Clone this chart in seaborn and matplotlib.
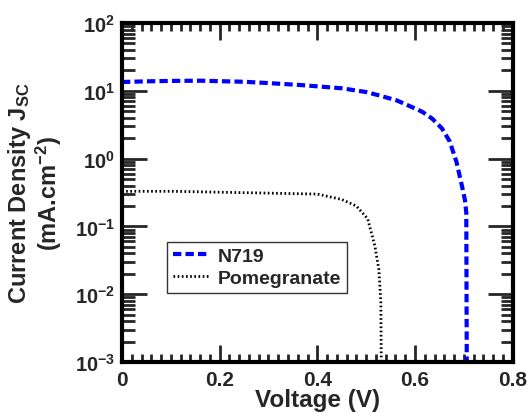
import numpy as np
import pandas as pd
import matplotlib
matplotlib.use("Agg")
import matplotlib.pyplot as plt
import seaborn as sns
from matplotlib.ticker import LogLocator, MultipleLocator, FixedLocator, FixedFormatter, NullFormatter

# J-V data (log scale)
v_n719 = [0.0, 0.05, 0.10, 0.16, 0.25, 0.30, 0.364, 0.45, 0.50, 0.528, 0.563, 0.595,
          0.615, 0.635, 0.655, 0.671, 0.685, 0.696, 0.702, 0.705, 0.706]
j_n719 = [13.5, 13.8, 14.0, 14.1, 13.6, 13.0, 12.2, 10.9, 9.6, 8.5, 7.2, 5.7,
          4.9, 3.9, 2.8, 1.8, 0.89, 0.40, 0.25, 0.16, 0.0009]

v_pom = [0.0, 0.10, 0.20, 0.30, 0.40, 0.45, 0.48, 0.503, 0.518, 0.526, 0.530, 0.531]
j_pom = [0.33, 0.33, 0.32, 0.31, 0.30, 0.25, 0.20, 0.13, 0.051, 0.023, 0.0078, 0.0009]

xticks = [0, 0.2, 0.4, 0.6, 0.8]
xticklabels = ["0", "0.2", "0.4", "0.6", "0.8"]

sns.set_style("ticks")
plt.rcParams['font.family'] = ['Liberation Sans', 'DejaVu Sans']
plt.rcParams['font.weight'] = 'bold'
plt.rcParams['mathtext.fontset'] = 'custom'
plt.rcParams['mathtext.rm'] = 'Liberation Sans:bold'
plt.rcParams['mathtext.bf'] = 'Liberation Sans:bold'
plt.rcParams['mathtext.default'] = 'bf'
plt.rcParams['axes.unicode_minus'] = False

df1 = pd.DataFrame({"V": v_n719, "J": j_n719})
df2 = pd.DataFrame({"V": v_pom, "J": j_pom})

fig = plt.figure(figsize=(5.28, 4.14), dpi=100)
ax = fig.add_axes([0.231, 0.123, 0.740, 0.819])

sns.lineplot(data=df1, x="V", y="J", ax=ax, color="blue", linewidth=3,
             linestyle=(0, (2, 1)), estimator=None, sort=False, label="N719")
sns.lineplot(data=df2, x="V", y="J", ax=ax, color="black", linewidth=2,
             linestyle=(0, (0.6, 0.9)), estimator=None, sort=False, label="Pomegranate")

ax.set_yscale("log")
ax.set_xlim(0, 0.8)
ax.set_ylim(1e-3, 1e2)

ax.xaxis.set_major_locator(FixedLocator(xticks))
ax.xaxis.set_major_formatter(FixedFormatter(xticklabels))
ax.xaxis.set_minor_locator(MultipleLocator(0.02))
ax.yaxis.set_major_locator(LogLocator(base=10, numticks=10))
ax.yaxis.set_minor_locator(LogLocator(base=10, subs=np.arange(2, 10), numticks=10))
ax.yaxis.set_minor_formatter(NullFormatter())

ax.tick_params(axis="both", which="both", direction="in", top=True, right=True)
ax.tick_params(axis="x", which="major", length=12, width=2, labelsize=15, pad=6)
ax.tick_params(axis="x", which="minor", length=6, width=2)
ax.tick_params(axis="y", which="major", length=18, width=2, labelsize=14.5, pad=5)
ax.tick_params(axis="y", which="minor", length=9, width=2)

for s in ax.spines.values():
    s.set_linewidth(3)
    s.set_color("black")

ax.set_xlabel("Voltage (V)", fontsize=17.5, fontweight="bold", labelpad=-1)
ax.set_ylabel("Current Density J$_{SC}$\n(mA.cm$^{-2}$)", fontsize=17,
              fontweight="bold", labelpad=8, linespacing=1.0)

leg = ax.legend(loc="lower left", bbox_to_anchor=(0.115, 0.205), fontsize=14,
                frameon=True, fancybox=False, handlelength=1.8, handletextpad=0.5,
                borderpad=0.3, labelspacing=0.2, borderaxespad=0)
leg.get_frame().set_edgecolor("black")
leg.get_frame().set_linewidth(1)
for t in leg.get_texts():
    t.set_fontweight("bold")

fig.savefig("out.png", dpi=100)
